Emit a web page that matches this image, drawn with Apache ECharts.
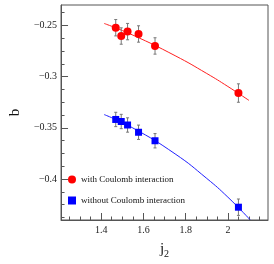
<!DOCTYPE html>
<html>
<head>
<meta charset="utf-8">
<script src="https://cdn.jsdelivr.net/npm/echarts@6/dist/echarts.min.js"></script>
<style>html,body{margin:0;padding:0;background:#fff;}#c{width:274px;height:264px;}</style>
</head>
<body>
<div id="c"></div>
<script>
// ---- data ----
var withX = [1.469, 1.495, 1.525, 1.577, 1.655, 2.050];
var withY = [-0.2522, -0.2603, -0.2560, -0.2583, -0.2700, -0.3160];
var withErr = [0.008, 0.008, 0.008, 0.008, 0.008, 0.009];
var withoutX = [1.469, 1.495, 1.525, 1.577, 1.655, 2.050];
var withoutY = [-0.3418, -0.3438, -0.3472, -0.3543, -0.3626, -0.4275];
var withoutErr = [0.007, 0.007, 0.007, 0.007, 0.007, 0.008];
var fitWithX = [1.414, 1.55, 1.75, 1.90, 2.00, 2.10];
var fitWithY = [-0.2480, -0.2594, -0.2795, -0.2969, -0.3096, -0.3232];
var fitWithoutX = [1.414, 1.55, 1.75, 1.90, 2.00, 2.105];
var fitWithoutY = [-0.3370, -0.3501, -0.3754, -0.3994, -0.4177, -0.4397];
var xMajor = [1.4, 1.6, 1.8, 2.0];
var xMinor = [1.25, 1.3, 1.35, 1.45, 1.5, 1.55, 1.65, 1.7, 1.75, 1.85, 1.9, 1.95, 2.05, 2.1, 2.15];
var yMajor = [-0.4, -0.35, -0.3, -0.25];
var yMinor = [-0.4375, -0.425, -0.4125, -0.3875, -0.375, -0.3625, -0.3375, -0.325, -0.3125, -0.2875, -0.275, -0.2625, -0.2375];
var names = ['with Coulomb interaction', 'without Coulomb interaction'];

function zip(a, b) { return a.map(function (v, i) { return [v, b[i]]; }); }
function zip3(a, b, c) { return a.map(function (v, i) { return [v, b[i], c[i]]; }); }

var serif = "'Liberation Serif', 'DejaVu Serif', serif";
var axisCol = '#555';

function errItem(params, api) {
  var x = api.value(0), y = api.value(1), e = api.value(2);
  var p1 = api.coord([x, y + e]);
  var p2 = api.coord([x, y - e]);
  var s = { stroke: '#777', lineWidth: 1 };
  return {
    type: 'group',
    children: [
      { type: 'line', shape: { x1: p1[0], y1: p1[1], x2: p2[0], y2: p2[1] }, style: s },
      { type: 'line', shape: { x1: p1[0] - 1.5, y1: p1[1], x2: p1[0] + 1.5, y2: p1[1] }, style: s },
      { type: 'line', shape: { x1: p2[0] - 1.5, y1: p2[1], x2: p2[0] + 1.5, y2: p2[1] }, style: s }
    ]
  };
}

function fmtY(v) { return '\u2212' + String(Math.abs(v)); }

var xBase = { type: 'value', min: 1.21, max: 2.19, position: 'bottom', splitLine: { show: false } };
var yBase = { type: 'value', min: -0.44, max: -0.23, position: 'left', splitLine: { show: false } };

var chart = echarts.init(document.getElementById('c'), null, { renderer: 'canvas' });
chart.setOption({
  animation: false,
  backgroundColor: '#fff',
  grid: { left: 41, right: 6, top: 5, bottom: 40, show: true, borderColor: axisCol, borderWidth: 1, backgroundColor: 'transparent' },
  xAxis: [
    Object.assign({}, xBase, {
      name: '{j|j}{s|2}', nameLocation: 'middle', nameGap: 19,
      nameTextStyle: { rich: { j: { fontFamily: serif, fontSize: 15, color: '#111' }, s: { fontFamily: serif, fontSize: 10, color: '#111', padding: [10, 0, 0, 0] } } },
      axisLine: { show: true, lineStyle: { color: axisCol, width: 1 } },
      axisTick: { show: true, inside: true, length: 7, customValues: xMajor, lineStyle: { color: axisCol } },
      axisLabel: { customValues: xMajor, margin: 5, fontFamily: serif, fontSize: 10, color: '#222', formatter: function (v) { return String(v); } }
    }),
    Object.assign({}, xBase, {
      axisLine: { show: false },
      axisTick: { show: true, inside: true, length: 3.5, customValues: xMinor, lineStyle: { color: axisCol } },
      axisLabel: { show: false }
    })
  ],
  yAxis: [
    Object.assign({}, yBase, {
      name: 'b', nameLocation: 'middle', nameGap: 24, nameRotate: 90,
      nameTextStyle: { fontFamily: serif, fontSize: 15, color: '#111' },
      axisLine: { show: true, lineStyle: { color: axisCol, width: 1 } },
      axisTick: { show: true, inside: true, length: 7, customValues: yMajor, lineStyle: { color: axisCol } },
      axisLabel: { customValues: yMajor, margin: 4, fontFamily: serif, fontSize: 10, color: '#222', formatter: fmtY }
    }),
    Object.assign({}, yBase, {
      axisLine: { show: false },
      axisTick: { show: true, inside: true, length: 3.5, customValues: yMinor, lineStyle: { color: axisCol } },
      axisLabel: { show: false }
    })
  ],
  legend: {
    orient: 'vertical', left: 63, top: 170, itemWidth: 8, itemHeight: 8, itemGap: 12,
    textStyle: { fontFamily: serif, fontSize: 9, color: '#111' },
    data: [{ name: names[0], icon: 'circle' }, { name: names[1], icon: 'rect' }]
  },
  series: [
    { type: 'line', data: zip(fitWithX, fitWithY), smooth: true, showSymbol: false, symbol: 'none', lineStyle: { color: '#ff2020', width: 1 }, silent: true, z: 1 },
    { type: 'line', data: zip(fitWithoutX, fitWithoutY), smooth: true, showSymbol: false, symbol: 'none', lineStyle: { color: '#2020ff', width: 1 }, silent: true, z: 1 },
    { type: 'custom', renderItem: errItem, data: zip3(withX, withY, withErr), z: 2 },
    { type: 'custom', renderItem: errItem, data: zip3(withoutX, withoutY, withoutErr), z: 2 },
    { name: names[0], type: 'scatter', symbol: 'circle', symbolSize: 8, data: zip(withX, withY), itemStyle: { color: '#ff0000', opacity: 1 }, z: 3 },
    { name: names[1], type: 'scatter', symbol: 'rect', symbolSize: 7, data: zip(withoutX, withoutY), itemStyle: { color: '#0000ff', opacity: 1 }, z: 3 }
  ]
});
</script>
</body>
</html>
